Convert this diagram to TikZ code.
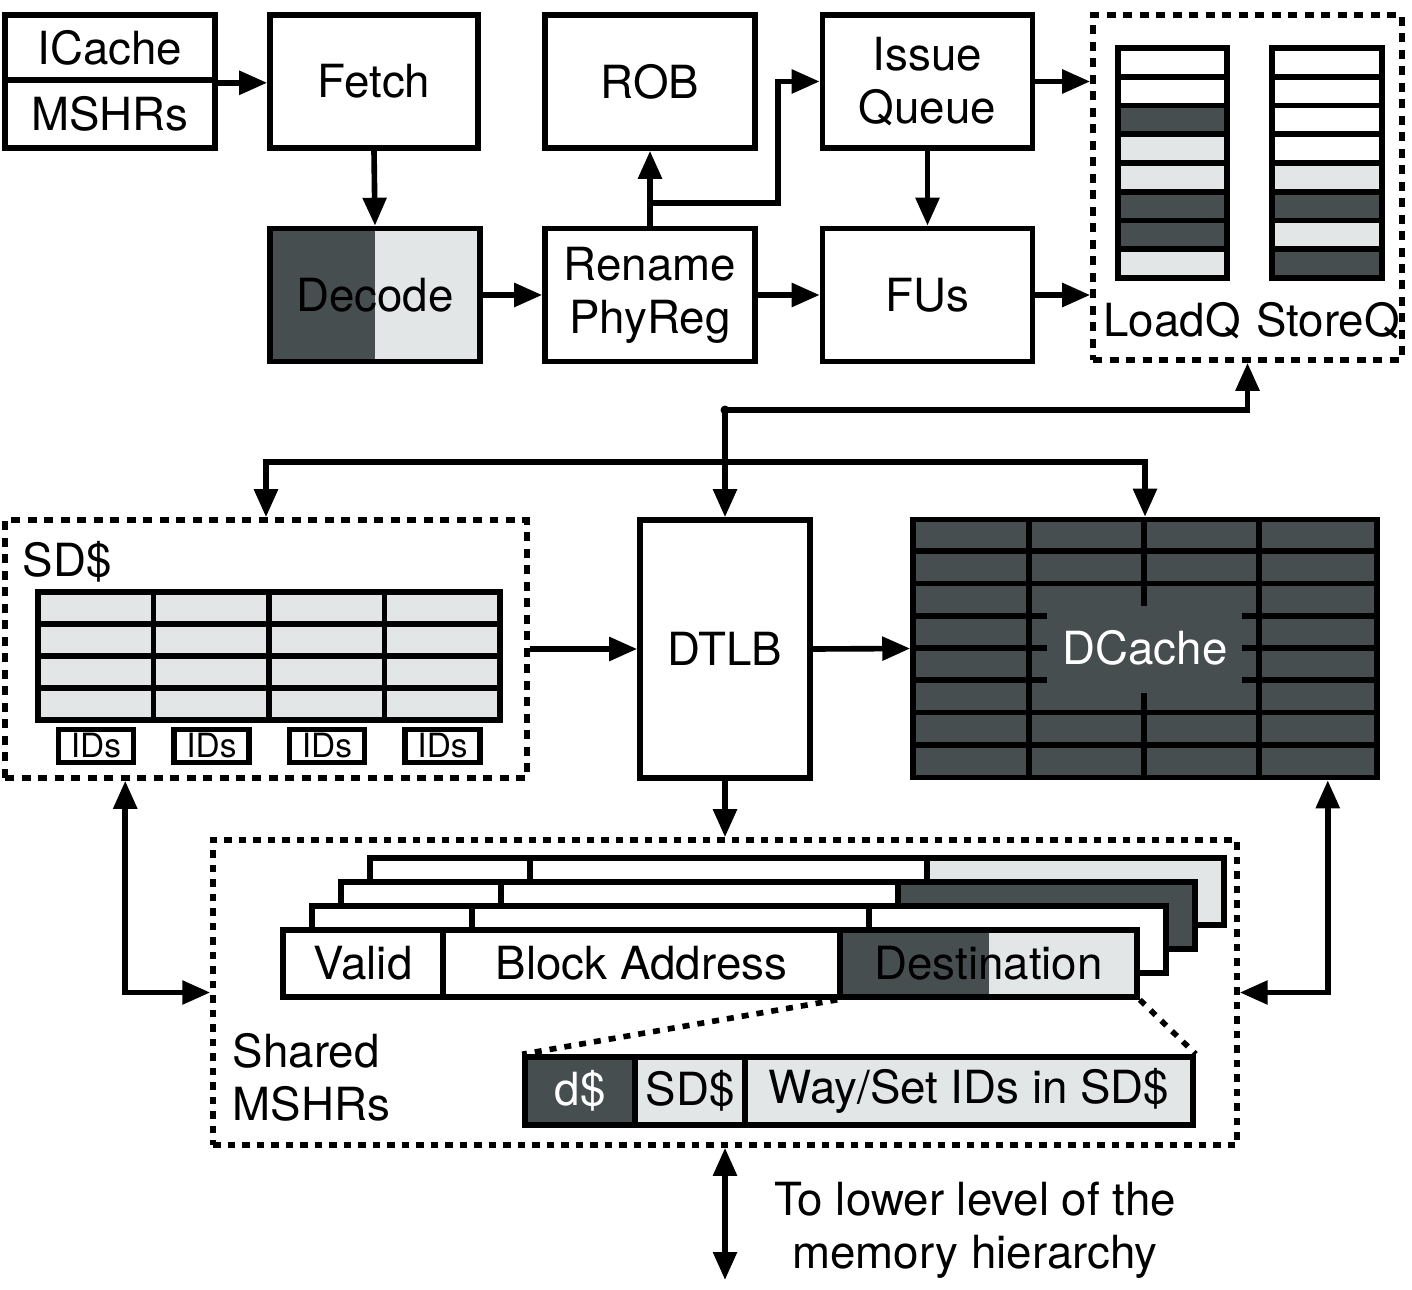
\documentclass[tikz,border=0pt]{standalone}
\usepackage{fontspec}
\setmainfont{TeX Gyre Heros}
\usetikzlibrary{arrows.meta,calc}
\definecolor{darkfill}{HTML}{464E50}
\definecolor{lightfill}{HTML}{E3E6E7}

\begin{document}
\begin{tikzpicture}[x=0.02cm, y=-0.02cm, line width=3.2pt,
  every node/.style = {font=\fontsize{26}{30}\selectfont, inner sep=0pt},
  blk/.style = {shape=rectangle, draw, fill=white, align=center},
  stage/.style = {blk, minimum width=4.2cm, minimum height=2.66cm},
  dbox/.style = {shape=rectangle, draw, dash pattern=on 0.18cm off 0.15cm},
  dotline/.style = {dash pattern=on 0.14cm off 0.16cm},
  arr/.style = {-{Triangle[length=0.56cm,width=0.46cm]}},
  arrb/.style = {{Triangle[length=0.56cm,width=0.46cm]}-{Triangle[length=0.56cm,width=0.46cm]}},
  split/.style = {path picture={\fill[darkfill] (path picture bounding box.south west)
    rectangle (path picture bounding box.north);}}]
  \useasboundingbox (0,0) rectangle (1412,1290);

  \node[blk, minimum width=4.2cm, minimum height=1.3cm] (icache) at (110,47.5) {ICache};
  \node[blk, minimum width=4.2cm, minimum height=1.36cm] (imshr) at (110,114) {MSHRs};
  \node[stage, minimum width=4.16cm] (fetch) at (374,81.5) {Fetch};
  \node[stage, fill=lightfill, split] (decode) at (375,295) {Decode};
  \node[stage] (rob) at (650,81.5) {ROB};
  \node[stage] (issue) at (927.5,81.5) {Issue\\Queue};
  \node[stage] (rename) at (650,295) {Rename\\PhyReg};
  \node[stage] (fus) at (927.5,295) {FUs};

  \node[dbox, minimum width=6.18cm, minimum height=6.9cm] (lsq) at (1247.5,187.5) {};
  \foreach \c [count=\i from 0] in {white,white,darkfill,lightfill,lightfill,darkfill,darkfill,lightfill}
    \draw[fill=\c] (1118,{48+28.75*\i}) rectangle ++(109,28.75);
  \foreach \c [count=\i from 0] in {white,white,white,white,lightfill,darkfill,lightfill,darkfill}
    \draw[fill=\c] (1272,{48+28.75*\i}) rectangle ++(110,28.75);
  \node (loadq) at (1172,321) {LoadQ};
  \node (storeq) at (1328,321) {StoreQ};

  \draw[arr] (icache.south east) -- (icache.south east -| fetch.west);
  \draw[arr] (fetch.south) -- (decode.north);
  \draw[arr] (decode.east) -- (rename.west);
  \draw[arr] (rename.north) -- (rob.south);
  \draw[arr] ($(rename.north)+(0,-23)$) -- ++(128,0) |- (issue.west);
  \draw[arr] (issue.south) -- (fus.north);
  \draw[arr] (rename.east) -- (fus.west);
  \draw[arr] (issue.east) -- (issue.east -| lsq.west);
  \draw[arr] (fus.east) -- (fus.east -| lsq.west);

  \node[dbox, minimum width=10.44cm, minimum height=5.16cm] (sdbox) at (266,649) {};
  \node[anchor=west] (sdlabel) at (20,562) {SD\$};
  \foreach \i in {0,...,3}
    \foreach \j in {0,...,3}
      \draw[fill=lightfill] ({38+115.5*\j},{592+32*\i}) rectangle ++(115.5,32);
  \foreach \j in {0,...,3}
    \node[blk, font=\fontsize{19}{22}\selectfont, minimum width=1.5cm, minimum height=0.66cm,
      line width=3pt] (ids\j) at ({96+115.5*\j},746) {IDs};

  \node[blk, minimum width=3.4cm, minimum height=5.16cm] (dtlb) at (725,649) {DTLB};
  \node[blk, fill=darkfill, minimum width=9.28cm, minimum height=5.16cm] (dcache) at (1145,648.5) {};
  \foreach \i in {1,2,6,7}
    \draw (913,{519+32.25*\i}) -- (1377,{519+32.25*\i});
  \foreach \i in {3,4,5} {
    \draw (913,{519+32.25*\i}) -- (1047,{519+32.25*\i});
    \draw (1242,{519+32.25*\i}) -- (1377,{519+32.25*\i});
  }
  \draw (1029,519) -- (1029,778) (1259,519) -- (1259,778);
  \draw (1144,519) -- (1144,606) (1144,693) -- (1144,778);
  \node[text=white] (dclabel) at (1145,648) {DCache};

  \coordinate (jn) at (725,410);
  \coordinate (bus) at (725,462);
  \fill (jn) circle (0.09cm);
  \draw[arr] (jn) -| (lsq.south);
  \draw[arr] (jn) -- (dtlb.north);
  \draw[arrb] (sdbox.north) |- (dcache.north |- bus) -- (dcache.north);
  \draw[arr] (sdbox.east) -- (dtlb.west);
  \draw[arr] (dtlb.east) -- (dcache.west);

  \node[dbox, dash pattern=on 0.15cm off 0.14cm, minimum width=20.48cm, minimum height=6.1cm] (mshrbox) at (725,992.5) {};
  \draw[arr] (dtlb.south) -- (mshrbox.north);
  \foreach \k/\c in {3/lightfill,2/darkfill,1/white} {
    \draw[fill=white] ({283+29*\k},{930-24*\k}) rectangle ++(160,67);
    \draw[fill=white] ({443+29*\k},{930-24*\k}) rectangle ++(397,67);
    \draw[fill=\c] ({840+29*\k},{930-24*\k}) rectangle ++(297,67);
  }
  \node[blk, minimum width=3.2cm, minimum height=1.34cm] (valid) at (363,963.5) {Valid};
  \node[blk, minimum width=7.94cm, minimum height=1.34cm] (baddr) at (641.5,963.5) {Block Address};
  \node[blk, fill=lightfill, split, minimum width=5.94cm, minimum height=1.34cm] (dest) at (988.5,963.5) {Destination};
  \node[anchor=west, align=left] (shlabel) at (230,1077) {Shared\\MSHRs};
  \node[blk, fill=darkfill, text=white, minimum width=2.2cm, minimum height=1.36cm] (dsub) at (580,1091) {d\$};
  \node[blk, fill=lightfill, minimum width=2.2cm, minimum height=1.36cm] (sdsub) at (690,1091) {SD\$};
  \node[blk, fill=lightfill, minimum width=8.96cm, minimum height=1.36cm] (way) at (969,1091) {Way/Set IDs in SD\$};
  \draw[dotline] (dest.south west) -- (dsub.north west);
  \draw[dotline] (dest.south east) -- (way.north east);

  \draw[arrb] ($(sdbox.south west)+(123,0)$) |- (mshrbox.west);
  \draw[arrb] ($(dcache.south east)+(-52,0)$) |- (mshrbox.east);
  \coordinate (lowend) at (725,1280);
  \draw[arrb] (mshrbox.south) -- (lowend);
  \node[align=center] (lowtext) at (975,1230) {To lower level of the\\memory hierarchy};
\end{tikzpicture}
\end{document}
